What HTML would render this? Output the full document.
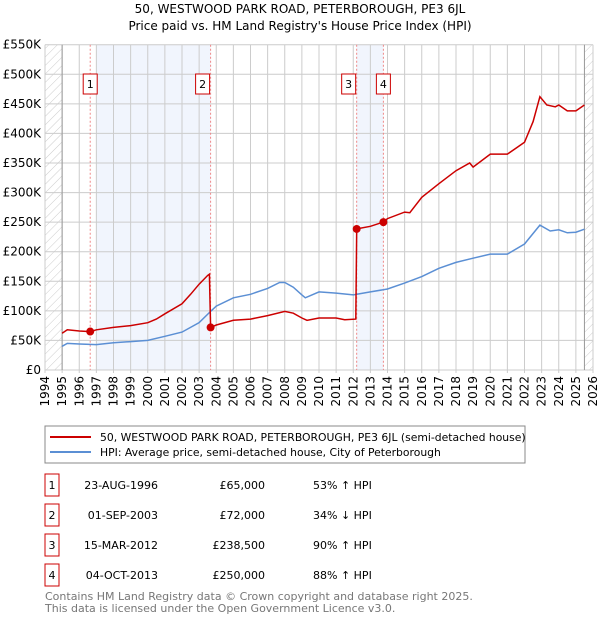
<!DOCTYPE html>
<html><head><meta charset="utf-8"><style>
body{margin:0;background:#fff;font-family:"DejaVu Sans","Liberation Sans",sans-serif;}
svg text{font-family:"DejaVu Sans","Liberation Sans",sans-serif;}
</style></head><body>
<svg id="c" width="600" height="620" xmlns="http://www.w3.org/2000/svg">
<defs><pattern id="h" width="6" height="6" patternUnits="userSpaceOnUse" patternTransform="rotate(45)"><line x1="0" y1="0" x2="0" y2="6" stroke="#ccc" stroke-width="1"/></pattern></defs>
<text x="300" y="13" text-anchor="middle" font-size="12">50, WESTWOOD PARK ROAD, PETERBOROUGH, PE3 6JL</text>
<text x="300" y="30" text-anchor="middle" font-size="12">Price paid vs. HM Land Registry's House Price Index (HPI)</text>
<g id="g"></g>
<rect x="45" y="426" width="480" height="37" fill="#fff" stroke="#888"/>
<line x1="50" y1="437" x2="91" y2="437" stroke="#cc0000" stroke-width="2"/>
<text x="100" y="441" font-size="10.8">50, WESTWOOD PARK ROAD, PETERBOROUGH, PE3 6JL (semi-detached house)</text>
<line x1="50" y1="452" x2="91" y2="452" stroke="#5b8fd4" stroke-width="2"/>
<text x="100" y="456" font-size="10.8">HPI: Average price, semi-detached house, City of Peterborough</text>
<g id="t" font-size="11"></g>
<text x="45" y="600" font-size="11" fill="#777">Contains HM Land Registry data © Crown copyright and database right 2025.</text>
<text x="45" y="612" font-size="11" fill="#777">This data is licensed under the Open Government Licence v3.0.</text>
</svg>
<script>
const hpiYears=[1995,1995.3,1996,1997,1998,1999,2000,2001,2002,2003,2003.7,2004,2005,2006,2007,2007.7,2008,2008.5,2009,2009.2,2010,2011,2012,2013,2014,2015,2016,2017,2018,2019,2020,2021,2022,2022.9,2023.5,2024,2024.5,2025,2025.5];
const hpiValues=[40,45,44,43,46,48,50,57,64,80,100,108,122,128,138,148,148,140,127,122,132,130,127,132,137,147,158,172,182,189,196,196,213,245,235,237,232,233,238];
const propYears=[1995,1995.3,1996,1996.65,1997,1998,1999,2000,2000.5,2001,2002,2002.5,2003,2003.5,2003.6,2003.67,2004,2005,2006,2007,2008,2008.5,2009,2009.3,2010,2011,2011.5,2012.15,2012.2,2013,2013.75,2014,2015,2015.3,2016,2017,2018,2018.8,2019,2020,2021,2021.5,2022,2022.5,2022.9,2023.3,2023.8,2024,2024.5,2025,2025.5];
const propValues=[62,68,66,65,68,72,75,80,86,95,112,128,145,160,162,72,76,84,86,92,99,96,88,84,88,88,85,86,238.5,243,250,256,267,266,292,315,337,350,343,365,365,375,385,420,462,448,445,448,438,438,448];
const saleLabels=["1","2","3","4"];
const saleYears=[1996.64,2003.67,2012.2,2013.76];
const saleValues=[65,72,238.5,250];
const saleDates=["23-AUG-1996","01-SEP-2003","15-MAR-2012","04-OCT-2013"];
const salePrices=["£65,000","£72,000","£238,500","£250,000"];
const saleHpi=["53% ↑ HPI","34% ↓ HPI","90% ↑ HPI","88% ↑ HPI"];
const yTicks=[0,50,100,150,200,250,300,350,400,450,500,550];
const yLabels=["£0","£50K","£100K","£150K","£200K","£250K","£300K","£350K","£400K","£450K","£500K","£550K"];
const X0=45,X1=593,Y0=370,Y1=44.7;
const x=y=>X0+(y-1994)*(X1-X0)/32;
const yv=v=>Y0-v*(Y0-Y1)/550;
const NS="http://www.w3.org/2000/svg";
const g=document.getElementById('g');
function mk(tag,at,par){const e=document.createElementNS(NS,tag);for(const k in at)e.setAttribute(k,at[k]);(par||g).appendChild(e);return e;}
let e;
e=mk('rect',{x:x(1997),y:Y1,width:x(saleYears[1])-x(1997),height:Y0-Y1,fill:'#eef3fc',opacity:0.8});


e=mk('rect',{x:x(saleYears[2]),y:Y1,width:x(saleYears[3])-x(saleYears[2]),height:Y0-Y1,fill:'#eef3fc',opacity:0.8});


e=mk('rect',{x:X0,y:Y1,width:x(1995)-X0,height:Y0-Y1,fill:'url(#h)'});


e=mk('rect',{x:x(2025.5),y:Y1,width:X1-x(2025.5),height:Y0-Y1,fill:'url(#h)'});


for(let i=0;i<yTicks.length;i++){
 e=mk('line',{x1:X0,x2:X1,y1:yv(yTicks[i]),y2:yv(yTicks[i]),stroke:'#ccc'});
 
 
 e=mk('text',{x:X0-4,y:yv(yTicks[i])+4,'text-anchor':'end','font-size':12});e.textContent=yLabels[i];
 
 
}
for(let yr=1994;yr<=2026;yr++){
 e=mk('line',{x1:x(yr),x2:x(yr),y1:Y1,y2:Y0+3,stroke:'#ccc'});
 
 
 e=mk('text',{x:0,y:0,'font-size':12,'text-anchor':'end',transform:`translate(${x(yr)+4},${Y0+6}) rotate(-90)`});e.textContent=yr;
 
 
}
e=mk('line',{x1:x(1995),x2:x(1995),y1:Y1,y2:Y0,stroke:'#999'});


e=mk('line',{x1:x(2025.5),x2:x(2025.5),y1:Y1,y2:Y0,stroke:'#999'});


for(let i=0;i<saleYears.length;i++){
 e=mk('line',{x1:x(saleYears[i]),x2:x(saleYears[i]),y1:Y1,y2:Y0,stroke:'#e88','stroke-dasharray':'2,2'});
 
 
}
const pts=(xs,vs)=>xs.map((a,i)=>x(a).toFixed(1)+','+yv(vs[i]).toFixed(1)).join(' ');
e=mk('polyline',{points:pts(hpiYears,hpiValues),fill:'none',stroke:'#5b8fd4','stroke-width':1.5});


e=mk('polyline',{points:pts(propYears,propValues),fill:'none',stroke:'#cc0000','stroke-width':1.5});


for(let i=0;i<saleYears.length;i++){
 e=mk('circle',{cx:x(saleYears[i]),cy:yv(saleValues[i]),r:4,fill:'#cc0000'});
 
 
 const bx=x(saleYears[i])+(i==0||i==3?-7:-15);
 e=mk('rect',{x:bx,y:74,width:14,height:20,fill:'#fff',stroke:'#cc0000'});
 
 
 e=mk('text',{x:bx+7,y:88,'text-anchor':'middle','font-size':11});e.textContent=saleLabels[i];
 
 
}
const t=document.getElementById('t');
for(let i=0;i<4;i++){
 const cy=485+i*30;
 e=mk('rect',{x:45,y:cy-11,width:14,height:22,fill:'#fff',stroke:'#cc0000'},t);
 
 
 e=mk('text',{x:52,y:cy+4,'text-anchor':'middle'},t);e.textContent=saleLabels[i];
 
 
 e=mk('text',{x:158,y:cy+4,'text-anchor':'end'},t);e.textContent=saleDates[i];
 
 
 e=mk('text',{x:265,y:cy+4,'text-anchor':'end'},t);e.textContent=salePrices[i];
 
 
 e=mk('text',{x:313,y:cy+4},t);e.textContent=saleHpi[i];
 
 
}
</script>
</body></html>
